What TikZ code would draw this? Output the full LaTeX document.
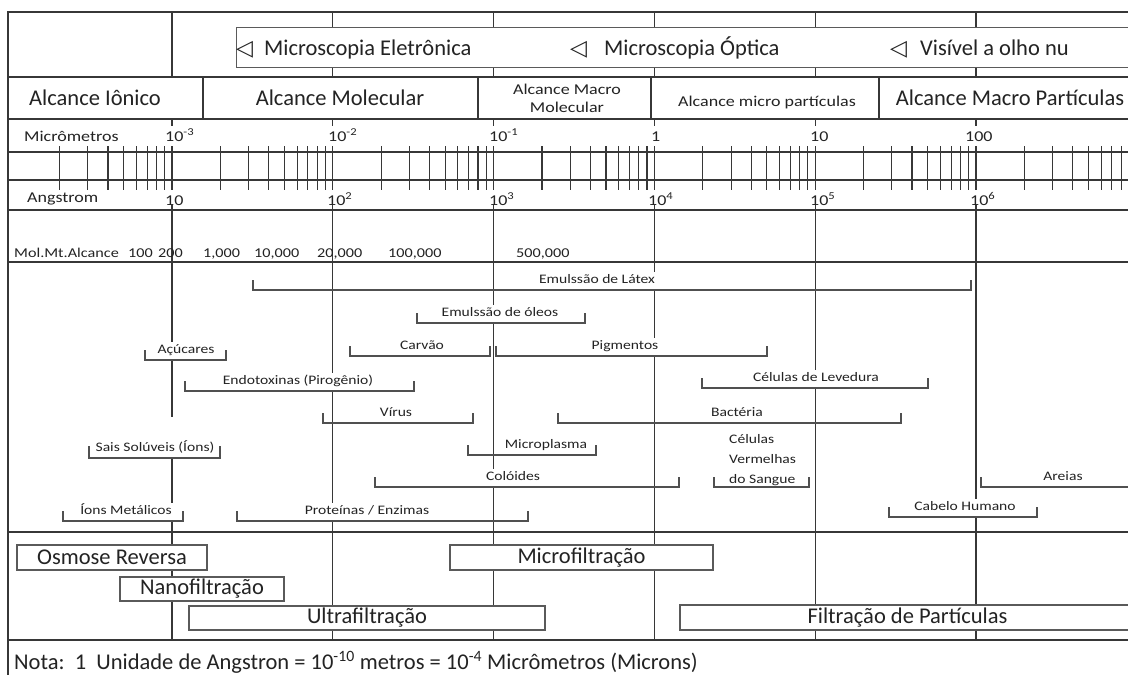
\documentclass[tikz,border=0pt]{standalone}
\usepackage{fontspec}
\setmainfont{Carlito}
\newfontfamily\widefont{Carlito}[FakeStretch=1.2]
\newfontfamily\trifont{DejaVu Sans}
\usepackage{tikz}
\definecolor{linecolor}{RGB}{55,55,55}
\definecolor{textcolor}{RGB}{35,35,35}
\definecolor{boxcolor}{RGB}{90,90,90}
\definecolor{bracketcolor}{RGB}{80,80,80}
\tikzset{
gridline/.style={
  draw=linecolor,
  line width=1.3pt
},
decadeline/.style={
  draw=linecolor,
  line width=1.1pt
},
scaletick/.style={
  draw=linecolor,
  line width=1.1pt
},
bigtext/.style={
  font=\fontsize{22.5}{26}\selectfont,
  text=textcolor,
  inner sep=0pt
},
scaletext/.style={
  font=\widefont\fontsize{15}{18}\selectfont,
  text=textcolor,
  inner sep=0pt
},
moltext/.style={
  font=\widefont\fontsize{13.5}{16}\selectfont,
  text=textcolor,
  inner sep=0pt
},
rangebase/.style={
  font=\widefont\fontsize{13}{20}\selectfont,
  text=textcolor,
  fill=white,
  inner xsep=2pt,
  inner ysep=3pt
},
rangetext/.style={
  rangebase,
  anchor=south,
  text height=9pt,
  text depth=3pt
},
rangeline/.style={
  draw=bracketcolor,
  line width=1.3pt
},
scopeblock/.style={
  draw=boxcolor,
  fill=white,
  line width=1.4pt
},
processblock/.style={
  draw=boxcolor,
  fill=white,
  line width=1.4pt,
  inner sep=0pt,
  font=\fontsize{22.5}{26}\selectfont,
  text=textcolor
}
}

\begin{document}
\begin{tikzpicture}[x=1pt,y=-1pt]
\useasboundingbox (0,0) rectangle (1128,675);
\clip (0,0) rectangle (1128,675);
\fill[white] (0,0) rectangle (1128,675);

\draw[gridline] (1140,12) -- (8,12) -- (8,680);
\foreach \y in {77,119,210,262,532,640}
  \draw[gridline] (8,\y) -- (1140,\y);
\draw[gridline] (172,12) -- (172,77);
\foreach \x in {203,478,651,879}
  \draw[gridline] (\x,77) -- (\x,119);
\foreach \d in {1,...,6} {
  \pgfmathsetmacro{\xd}{11.2+160.8*\d}
  \draw[decadeline] (\xd,12) -- (\xd,77);
  \draw[decadeline] (\xd,119) -- (\xd,126);
  \draw[scaletick] (\xd,146) -- (\xd,190);
  \draw[decadeline] (\xd,205) -- (\xd,640);
}

% microscopia
\node[scopeblock, anchor=north west, minimum width=904, minimum height=40] (microscopia) at (236,27) {};
\node[bigtext, anchor=base west] (eletronica) at (236,55) {{\trifont\fontsize{22}{24}\selectfont ◁}\hspace{11pt}Microscopia Eletrônica};
\node[bigtext, anchor=base west] (optica) at (570,55) {{\trifont\fontsize{22}{24}\selectfont ◁}\hspace{17pt}Microscopia Óptica};
\node[bigtext, anchor=base west] (olhonu) at (890,55) {{\trifont\fontsize{22}{24}\selectfont ◁}\hspace{13pt}Visível a olho nu};

% alcances
\node[bigtext, anchor=base] (ionico) at (95,105) {Alcance Iônico};
\node[bigtext, anchor=base] (molecular) at (340,105) {Alcance Molecular};
\node[scaletext, align=center] (macromol) at (567,98) {Alcance Macro\\Molecular};
\node[scaletext, anchor=base] (micropart) at (767,106) {Alcance micro partículas};
\node[bigtext, anchor=base] (macropart) at (1010,105) {Alcance Macro Partículas};

% escala
\draw[gridline] (8,152) -- (1140,152);
\draw[gridline] (8,180) -- (1140,180);
\foreach \d in {0,...,6}
  \foreach \k in {2,...,9} {
    \pgfmathsetmacro{\xt}{11.2+160.8*(\d+log10(\k))}
    \draw[scaletick] (\xt,146) -- (\xt,190);
  }
\node[scaletext, anchor=base west] (micrometros) at (24,141) {Micrômetros};
\node[scaletext, anchor=base west] (angstrom) at (27,202) {Angstrom};
\foreach \lab/\px [count=\i] in {10\textsuperscript{-3}/165, 10\textsuperscript{-2}/328, 10\textsuperscript{-1}/489, 1/651, 10/810, 100/965}
  \node[scaletext, anchor=base west] (um\i) at (\px,141) {\lab};
\foreach \lab/\px [count=\i] in {10/165, 10\textsuperscript{2}/327, 10\textsuperscript{3}/489, 10\textsuperscript{4}/648, 10\textsuperscript{5}/810, 10\textsuperscript{6}/970}
  \node[scaletext, anchor=base west] (ang\i) at (\px,205) {\lab};

% peso molecular
\node[moltext, anchor=base west] (molmt) at (14,257) {Mol.Mt.Alcance};
\foreach \val/\px [count=\i] in {100/128, 200/158, 1{,}000/203, 10{,}000/254, 20{,}000/317, 100{,}000/388, 500{,}000/516}
  \node[moltext, anchor=base west] (mol\i) at (\px,257) {\val};

% faixas
\node[rangetext] (latex) at (597,290) {Emulssão de Látex};
\draw[rangeline] (253,280) -- (253,290) -- (971,290) -- (971,280);
\node[rangetext] (oleos) at (500,323) {Emulssão de óleos};
\draw[rangeline] (417,313) -- (417,323) -- (585,323) -- (585,313);
\node[rangetext] (acucares) at (186,360) {Açúcares};
\draw[rangeline] (145,350) -- (145,360) -- (226,360) -- (226,350);
\node[rangetext] (carvao) at (422,356) {Carvão};
\draw[rangeline] (350,346) -- (350,356) -- (490,356) -- (490,346);
\node[rangetext] (pigmentos) at (625,356) {Pigmentos};
\draw[rangeline] (496,346) -- (496,356) -- (767,356) -- (767,346);
\node[rangetext] (endotoxinas) at (298,391) {Endotoxinas (Pirogênio)};
\draw[rangeline] (185,381) -- (185,391) -- (414,391) -- (414,381);
\node[rangetext] (levedura) at (816,388) {Células de Levedura};
\draw[rangeline] (702,378) -- (702,388) -- (928,388) -- (928,378);
\node[rangetext] (virus) at (396,423) {Vírus};
\draw[rangeline] (323,413) -- (323,423) -- (473,423) -- (473,413);
\node[rangetext] (bacteria) at (737,423) {Bactéria};
\draw[rangeline] (558,413) -- (558,423) -- (901,423) -- (901,413);
\node[rangetext, text height=32pt] (sais) at (155,458) {Sais Solúveis (Íons)};
\draw[rangeline] (89,446) -- (89,458) -- (220,458) -- (220,446);
\node[rangetext] (microplasma) at (546,455) {Microplasma};
\draw[rangeline] (468,445) -- (468,455) -- (596,455) -- (596,445);
\node[rangebase, fill=none, anchor=south west, align=left, inner xsep=0pt, inner ysep=1pt] (hemacias) at (729,487) {Células\\Vermelhas\\do Sangue};
\draw[rangeline] (714,477) -- (714,487) -- (809,487) -- (809,477);
\node[rangetext] (coloides) at (513,487) {Colóides};
\draw[rangeline] (375,477) -- (375,487) -- (679,487) -- (679,477);
\node[rangetext] (areias) at (1063,487) {Areias};
\draw[rangeline] (981,477) -- (981,487) -- (1140,487);
\node[rangetext] (cabelo) at (965,517) {Cabelo Humano};
\draw[rangeline] (889,507) -- (889,517) -- (1037,517) -- (1037,507);
\node[rangetext] (ions) at (126,521) {Íons Metálicos};
\draw[rangeline] (63,511) -- (63,521) -- (183,521) -- (183,511);
\node[rangetext] (proteinas) at (367,521) {Proteínas / Enzimas};
\draw[rangeline] (237,511) -- (237,521) -- (528,521) -- (528,511);

% processos
\node[processblock, minimum width=190, minimum height=25] (osmose) at (112,557.5) {Osmose Reversa};
\node[processblock, minimum width=164, minimum height=24] (nano) at (202,589) {Nanofiltração};
\node[processblock, minimum width=356, minimum height=24] (ultra) at (367,618) {Ultrafiltração};
\node[processblock, minimum width=263, minimum height=25] (micro) at (581.5,557.5) {Microfiltração};
\node[processblock, minimum width=455, minimum height=25] (particulas) at (907.5,617.5) {Filtração de Partículas};

\node[bigtext, anchor=base west] (nota) at (14,669) {Nota:\ \ 1\ \ Unidade de Angstron = 10\textsuperscript{-10} metros = 10\textsuperscript{-4} Micrômetros (Microns)};
\end{tikzpicture}
\end{document}
